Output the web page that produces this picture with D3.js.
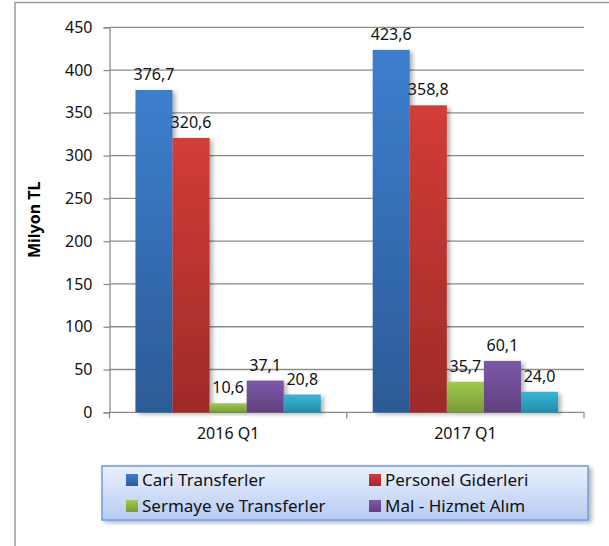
<!DOCTYPE html>
<html>
<head>
<meta charset="utf-8">
<script src="https://d3js.org/d3.v7.min.js"></script>
<style>
  body { margin: 0; background: #fff; }
  svg { display: block; font-family: "Noto Sans", sans-serif; }
</style>
</head>
<body>
<script>
// chart data
var categories = ["2016 Q1", "2017 Q1"];
var seriesNames = ["Cari Transferler", "Personel Giderleri", "Sermaye ve Transferler", "Mal - Hizmet Alım", "Diğer"];
var cariValues = [376.7, 423.6];
var personelValues = [320.6, 358.8];
var sermayeValues = [10.6, 35.7];
var malValues = [37.1, 60.1];
var digerValues = [20.8, 24.0];
var yTicks = [0, 50, 100, 150, 200, 250, 300, 350, 400, 450];

var seriesValues = [cariValues, personelValues, sermayeValues, malValues, digerValues];
// top / bottom of the bar gradients
var colors = [
  ["#3d7fcf", "#2c5b96"],
  ["#d33c37", "#9e2b28"],
  ["#9fcb4c", "#789a38"],
  ["#7e59ab", "#5f417c"],
  ["#37b6da", "#268ca8"]
];

var W = 609, H = 546;
var plotLeft = 109.5, plotRight = 584, plotTop = 27.3, plotBottom = 412.3;

var svg = d3.select("body").append("svg")
    .attr("width", W)
    .attr("height", H);

var defs = svg.append("defs");
colors.forEach(function (c, i) {
  var g = defs.append("linearGradient").attr("id", "grad" + i)
      .attr("x1", 0).attr("y1", 0).attr("x2", 0).attr("y2", 1);
  g.append("stop").attr("offset", "0%").attr("stop-color", c[0]);
  g.append("stop").attr("offset", "100%").attr("stop-color", c[1]);
});
var lg = defs.append("linearGradient").attr("id", "legendGrad")
    .attr("x1", 0).attr("y1", 0).attr("x2", 0).attr("y2", 1);
lg.append("stop").attr("offset", "0%").attr("stop-color", "#eaf1fd");
lg.append("stop").attr("offset", "100%").attr("stop-color", "#b6cbf3");

var shadow = defs.append("filter").attr("id", "shadow")
    .attr("x", "-20%").attr("y", "-20%").attr("width", "150%").attr("height", "150%");
shadow.append("feDropShadow").attr("dx", 3).attr("dy", 2)
    .attr("stdDeviation", 2).attr("flood-color", "#000").attr("flood-opacity", 0.3);

// outer frame (only top and left visible)
svg.append("path")
    .attr("d", "M15,546 L15,2.5 L609,2.5")
    .attr("fill", "none")
    .attr("stroke", "#9a9a9a")
    .attr("stroke-width", 1.5);

var y = d3.scaleLinear().domain([0, 450]).range([plotBottom, plotTop]);
var x0 = d3.scaleBand().domain(categories).range([plotLeft, plotRight]);
var x1 = d3.scaleBand().domain(d3.range(seriesNames.length))
    .range([0, x0.bandwidth()]).paddingOuter(0.7);

// gridlines
svg.append("g").selectAll("line")
  .data(yTicks.filter(function (d) { return d > 0; }))
  .enter().append("line")
    .attr("x1", plotLeft).attr("x2", plotRight)
    .attr("y1", function (d) { return y(d); })
    .attr("y2", function (d) { return y(d); })
    .attr("stroke", "#8c8c8c")
    .attr("stroke-width", 1.3);

// y axis
var yAxis = svg.append("g")
    .attr("transform", "translate(" + plotLeft + ",0)")
    .call(d3.axisLeft(y).tickValues(yTicks).tickSize(6).tickPadding(11));
yAxis.select(".domain").attr("stroke", "#8c8c8c").attr("stroke-width", 1.3);
yAxis.selectAll(".tick line").attr("stroke", "#8c8c8c").attr("stroke-width", 1.3);
yAxis.selectAll("text")
    .attr("font-family", "Noto Sans, sans-serif")
    .attr("font-size", "16px")
    .attr("fill", "#111");

// x axis
var xAxis = svg.append("g")
    .attr("transform", "translate(0," + plotBottom + ")")
    .call(d3.axisBottom(x0).tickSize(0).tickPadding(15));
xAxis.select(".domain").remove();
xAxis.selectAll("text")
    .attr("font-family", "Noto Sans, sans-serif")
    .attr("font-size", "16px")
    .attr("fill", "#111");
svg.append("line")
    .attr("x1", plotLeft).attr("x2", plotRight)
    .attr("y1", plotBottom).attr("y2", plotBottom)
    .attr("stroke", "#8c8c8c").attr("stroke-width", 1.3);
svg.append("g").selectAll("line")
  .data(categories.concat(["end"]))
  .enter().append("line")
    .attr("x1", function (d, i) { return i < categories.length ? x0(d) : plotRight; })
    .attr("x2", function (d, i) { return i < categories.length ? x0(d) : plotRight; })
    .attr("y1", plotBottom).attr("y2", plotBottom + 6)
    .attr("stroke", "#8c8c8c").attr("stroke-width", 1.3);

// y axis title
svg.append("text")
    .attr("transform", "translate(40," + ((plotTop + plotBottom) / 2) + ") rotate(-90)")
    .attr("text-anchor", "middle")
    .attr("font-size", "16px")
    .attr("font-weight", "bold")
    .attr("fill", "#000")
    .text("Milyon TL");

// bars
var fmt = function (v) { return d3.format(".1f")(v).replace(".", ","); };
var groups = svg.append("g").selectAll("g")
  .data(categories)
  .enter().append("g")
    .attr("transform", function (d) { return "translate(" + x0(d) + ",0)"; });

groups.selectAll("rect")
  .data(function (d, ci) {
    return seriesValues.map(function (vals, si) { return { s: si, v: vals[ci] }; });
  })
  .enter().append("rect")
    .attr("x", function (d) { return x1(d.s); })
    .attr("y", function (d) { return y(d.v); })
    .attr("width", x1.bandwidth())
    .attr("height", function (d) { return plotBottom - y(d.v); })
    .attr("fill", function (d) { return "url(#grad" + d.s + ")"; })
    .attr("filter", "url(#shadow)");

groups.selectAll("text.lbl")
  .data(function (d, ci) {
    return seriesValues.map(function (vals, si) { return { s: si, v: vals[ci] }; });
  })
  .enter().append("text")
    .attr("class", "lbl")
    .attr("x", function (d) { return x1(d.s) + x1.bandwidth() / 2; })
    .attr("y", function (d) { return y(d.v) - 10; })
    .attr("text-anchor", "middle")
    .attr("font-size", "16px")
    .attr("fill", "#111")
    .text(function (d) { return fmt(d.v); });

// legend (the fifth entry doesn't fit in the box)
var legend = svg.append("g").attr("transform", "translate(102,466)");
legend.append("rect")
    .attr("width", 486).attr("height", 54)
    .attr("fill", "url(#legendGrad)")
    .attr("stroke", "#6f9be0")
    .attr("stroke-width", 1.5)
    .attr("filter", "url(#shadow)");

var items = legend.selectAll("g.item")
  .data(seriesNames.slice(0, 4))
  .enter().append("g")
    .attr("class", "item")
    .attr("transform", function (d, i) {
      return "translate(" + (i % 2 === 0 ? 24 : 267) + "," + (i < 2 ? 14 : 40) + ")";
    });
items.append("rect")
    .attr("x", 0).attr("y", -6)
    .attr("width", 12).attr("height", 12)
    .attr("fill", function (d, i) { return "url(#grad" + i + ")"; });
items.append("text")
    .attr("x", 16).attr("y", 0)
    .attr("dy", "0.35em")
    .attr("font-size", "17px")
    .attr("fill", "#111")
    .text(function (d) { return d; });
</script>
</body>
</html>
